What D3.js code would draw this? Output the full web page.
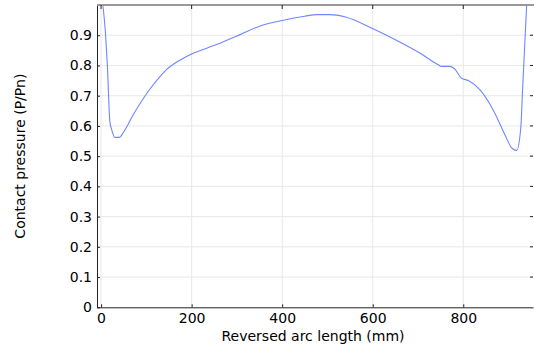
<!DOCTYPE html>
<html>
<head>
<meta charset="utf-8">
<script src="https://cdn.jsdelivr.net/npm/d3@7"></script>
<style>
  body { margin: 0; background: #fff; }
  svg { font-family: "DejaVu Sans", sans-serif; }
</style>
</head>
<body>
<svg width="534" height="349"></svg>
<script>
// arc length (mm) vs contact pressure (P/Pn)
let arcLength = [4, 10, 14, 19.4, 24, 30.5, 40, 50, 71, 93, 108, 125, 145, 170, 200, 255, 307, 350, 400, 450, 476, 505, 540, 597, 650, 704, 745, 752, 770, 780, 796, 811, 837, 866, 892, 907, 918, 927, 931, 940];
let pressure  = [1.0, 0.9, 0.797, 0.615, 0.585, 0.562, 0.562, 0.58, 0.637, 0.69, 0.722, 0.754, 0.787, 0.814, 0.838, 0.869, 0.902, 0.93, 0.949, 0.963, 0.968, 0.968, 0.96, 0.924, 0.885, 0.841, 0.802, 0.797, 0.797, 0.79, 0.758, 0.75, 0.719, 0.653, 0.571, 0.527, 0.519, 0.593, 0.72, 1.0];
let xTicks = [0, 200, 400, 600, 800];
let yTicks = [0, 0.1, 0.2, 0.3, 0.4, 0.5, 0.6, 0.7, 0.8, 0.9];

let data = arcLength.map((d, i) => ({ x: d, y: pressure[i] }));

let mLeft = 97, mRight = 533, mTop = 5, mBottom = 307.3;

let x = d3.scaleLinear().domain([-9, 954]).range([mLeft, mRight]);
let y = d3.scaleLinear().domain([0, 1]).range([mBottom, mTop]);

let svg = d3.select('svg');

// grid
svg.append('g')
  .selectAll('line')
  .data(xTicks)
  .enter().append('line')
    .attr('x1', d => x(d)).attr('x2', d => x(d))
    .attr('y1', mTop).attr('y2', mBottom)
    .attr('stroke', '#e8e8e8');
svg.append('g')
  .selectAll('line')
  .data(yTicks.slice(1))
  .enter().append('line')
    .attr('x1', mLeft).attr('x2', mRight)
    .attr('y1', d => y(d)).attr('y2', d => y(d))
    .attr('stroke', '#e8e8e8');

// curve
svg.append('defs').append('clipPath').attr('id', 'clip')
  .append('rect').attr('x', mLeft).attr('y', mTop).attr('width', mRight - mLeft).attr('height', mBottom - mTop);

svg.append('path')
  .datum(data)
  .attr('clip-path', 'url(#clip)')
  .attr('fill', 'none')
  .attr('stroke', '#6f86ff')
  .attr('stroke-width', 1.1)
  .attr('d', d3.line().x(d => x(d.x)).y(d => y(d.y)).curve(d3.curveMonotoneX));

// axes
let xAxis = svg.append('g')
  .attr('transform', `translate(0,${mBottom})`)
  .call(d3.axisBottom(x).tickValues(xTicks).tickSizeInner(-3).tickSizeOuter(0).tickPadding(6));
let yAxis = svg.append('g')
  .attr('transform', `translate(${mLeft},0)`)
  .call(d3.axisLeft(y).tickValues(yTicks).tickFormat(d => d === 0 ? '0' : d3.format('.1f')(d)).tickSizeInner(-3).tickSizeOuter(0).tickPadding(5));

[xAxis, yAxis].forEach(a => {
  a.selectAll('text').attr('font-size', 14).attr('fill', '#000').attr('font-family', '"DejaVu Sans", sans-serif');
  a.select('.domain').attr('stroke', '#222');
  a.selectAll('.tick line').attr('stroke', '#222');
});

// top frame and mirrored ticks
svg.append('line')
  .attr('x1', mLeft).attr('x2', mRight + 1)
  .attr('y1', mTop).attr('y2', mTop)
  .attr('stroke', '#999').attr('stroke-width', 2);
svg.append('g')
  .selectAll('line')
  .data(xTicks)
  .enter().append('line')
    .attr('x1', d => x(d)).attr('x2', d => x(d))
    .attr('y1', mTop).attr('y2', mTop + 4)
    .attr('stroke', '#222');
svg.append('g')
  .selectAll('line')
  .data(yTicks.slice(1))
  .enter().append('line')
    .attr('x1', mRight - 3).attr('x2', mRight)
    .attr('y1', d => y(d)).attr('y2', d => y(d))
    .attr('stroke', '#222');

// labels
svg.append('text')
  .attr('x', (mLeft + mRight) / 2 - 2)
  .attr('y', 341)
  .attr('text-anchor', 'middle')
  .attr('font-size', 14)
  .text('Reversed arc length (mm)');

svg.append('text')
  .attr('transform', `translate(25,${(mTop + mBottom) / 2}) rotate(-90)`)
  .attr('text-anchor', 'middle')
  .attr('font-size', 14)
  .text('Contact pressure (P/Pn)');
</script>
</body>
</html>
